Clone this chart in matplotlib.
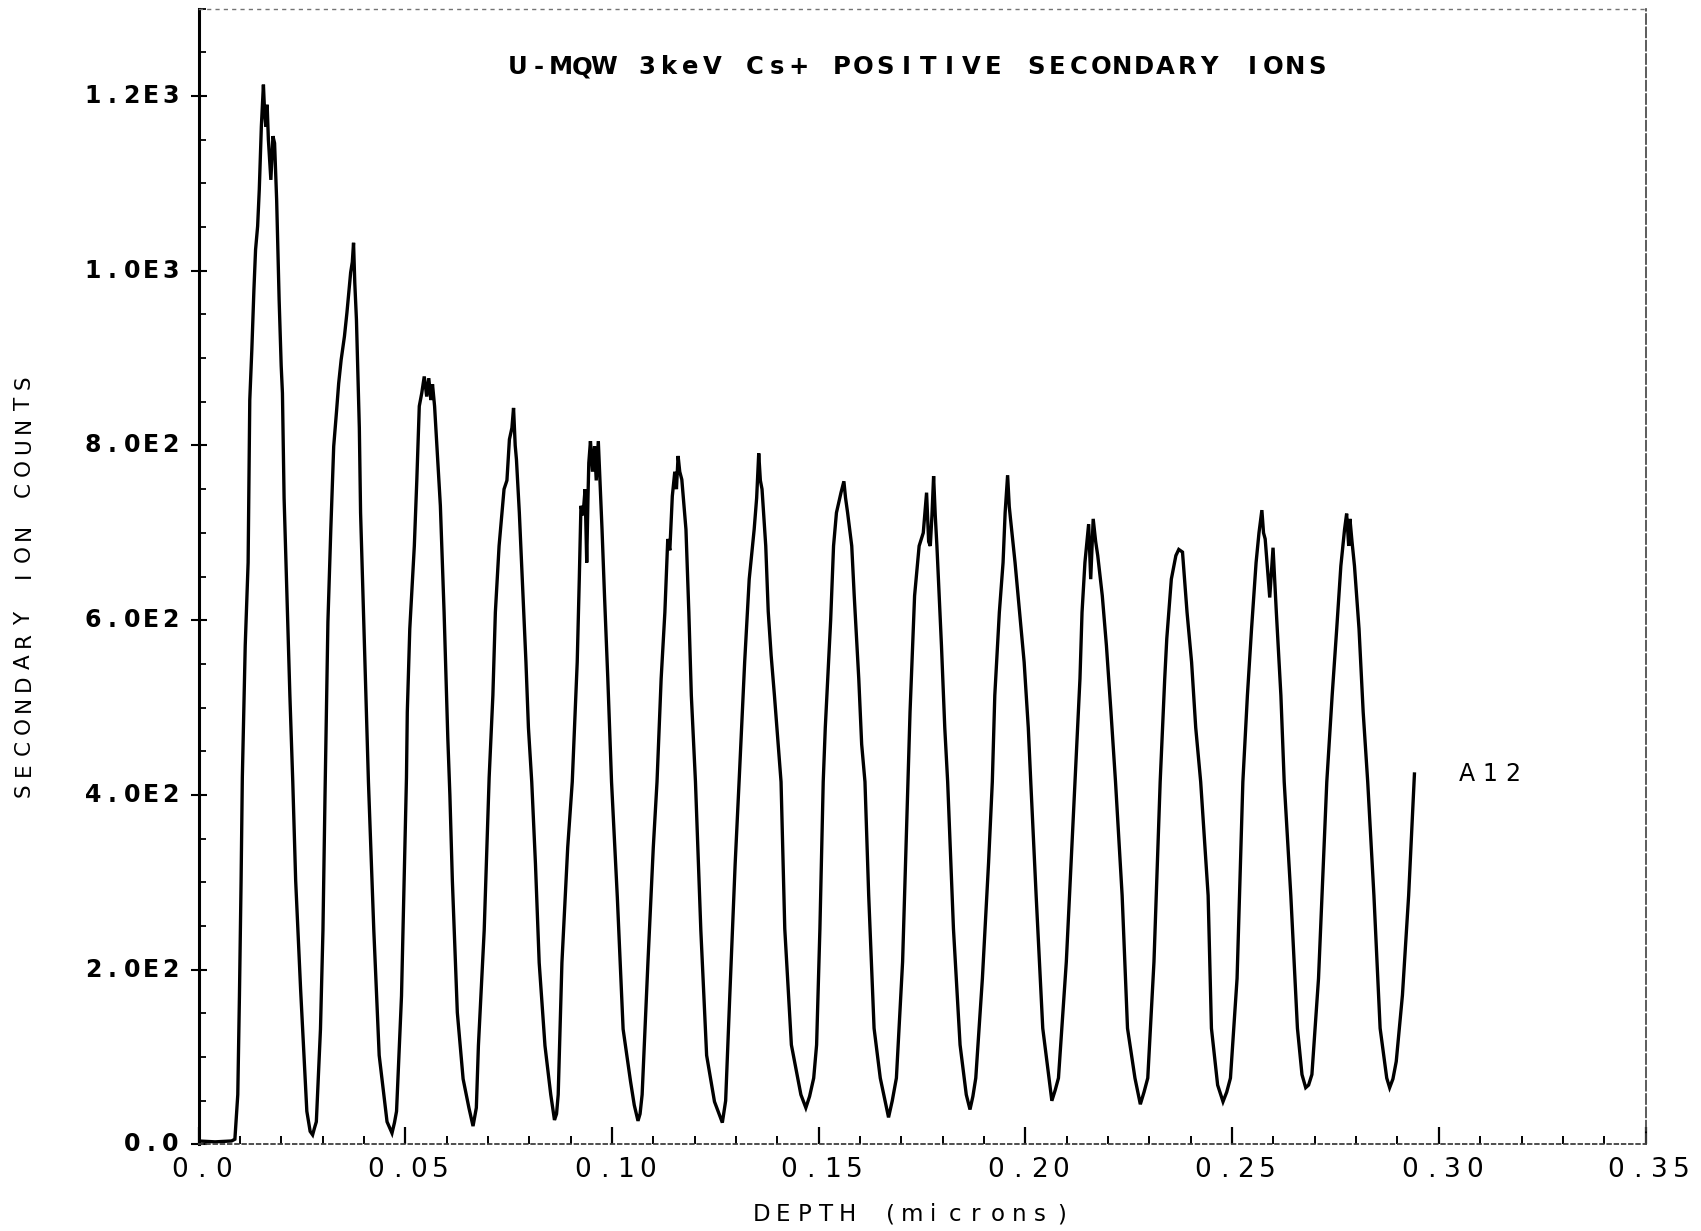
import matplotlib.pyplot as plt
from matplotlib.ticker import MultipleLocator
from matplotlib.transforms import offset_copy

# depth (microns) and secondary ion counts
depth = [
    0.0000, 0.0040, 0.0080, 0.0088, 0.0095, 0.0099, 0.0103, 0.0106, 0.0113, 0.0120, 0.0124,
    0.0129, 0.0134, 0.0138, 0.0143, 0.0147, 0.0152, 0.0157, 0.0160, 0.0163, 0.0166, 0.0169,
    0.0175, 0.0180, 0.0184, 0.0189, 0.0195, 0.0200, 0.0203, 0.0207, 0.0215, 0.0221, 0.0228,
    0.0235, 0.0247, 0.0258, 0.0262, 0.0270, 0.0276,
    0.0280, 0.0285, 0.0295, 0.0301, 0.0306, 0.0313, 0.0320, 0.0327, 0.0334, 0.0339, 0.0345,
    0.0353, 0.0359, 0.0364, 0.0368, 0.0372, 0.0375, 0.0378, 0.0382, 0.0386, 0.0389, 0.0392,
    0.0399, 0.0405, 0.0411, 0.0424, 0.0437, 0.0456, 0.0468,
    0.0474, 0.0479, 0.0491, 0.0503, 0.0505, 0.0511, 0.0522, 0.0528, 0.0534, 0.0540, 0.0546,
    0.0552, 0.0557, 0.0562, 0.0566, 0.0571, 0.0585, 0.0594, 0.0603, 0.0608, 0.0614, 0.0626,
    0.0640, 0.0654, 0.0664,
    0.0672, 0.0677, 0.0691, 0.0703, 0.0712, 0.0718, 0.0727, 0.0739, 0.0746, 0.0752, 0.0758,
    0.0762, 0.0766, 0.0769, 0.0776, 0.0785, 0.0792, 0.0798, 0.0806, 0.0815, 0.0824, 0.0838,
    0.0852, 0.0861,
    0.0866, 0.0870, 0.0879, 0.0893, 0.0904, 0.0916, 0.0921, 0.0925, 0.0930, 0.0935, 0.0939,
    0.0942, 0.0944, 0.0948, 0.0953, 0.0958, 0.0962, 0.0967, 0.0971, 0.0976, 0.0982, 0.0990,
    0.0999, 0.1013, 0.1027, 0.1045, 0.1054, 0.1063,
    0.1068, 0.1073, 0.1087, 0.1100, 0.1109, 0.1119, 0.1128, 0.1135, 0.1140, 0.1146, 0.1152,
    0.1156, 0.1160, 0.1164, 0.1169, 0.1179, 0.1186, 0.1192, 0.1202, 0.1215, 0.1229, 0.1248,
    0.1267,
    0.1275, 0.1285, 0.1298, 0.1308, 0.1321, 0.1332, 0.1344, 0.1350, 0.1355, 0.1359, 0.1363,
    0.1372, 0.1378, 0.1385, 0.1393, 0.1409, 0.1418, 0.1434, 0.1457, 0.1469,
    0.1478, 0.1488, 0.1495, 0.1503, 0.1511, 0.1516, 0.1529, 0.1536, 0.1543, 0.1554, 0.1561,
    0.1565, 0.1570, 0.1580, 0.1586, 0.1597, 0.1604, 0.1612, 0.1621, 0.1634, 0.1649, 0.1669,
    0.1678, 0.1688, 0.1703, 0.1716, 0.1721, 0.1732, 0.1743, 0.1753, 0.1761, 0.1766, 0.1770,
    0.1774, 0.1778, 0.1782, 0.1786, 0.1797, 0.1805, 0.1812, 0.1826, 0.1842, 0.1857, 0.1866,
    0.1873, 0.1880, 0.1896, 0.1911, 0.1920, 0.1926, 0.1937, 0.1946, 0.1951, 0.1957, 0.1961,
    0.1964, 0.1975, 0.1986, 0.1997, 0.2007, 0.2013, 0.2026, 0.2042, 0.2057, 0.2064,
    0.2072, 0.2080, 0.2099, 0.2120, 0.2132, 0.2137, 0.2144, 0.2153, 0.2158, 0.2164, 0.2170,
    0.2175, 0.2186, 0.2196, 0.2207, 0.2218, 0.2234, 0.2247, 0.2265, 0.2278,
    0.2287, 0.2296, 0.2311, 0.2326, 0.2337, 0.2342, 0.2353, 0.2364, 0.2371, 0.2380, 0.2391,
    0.2402, 0.2412, 0.2424, 0.2442, 0.2450, 0.2465, 0.2478,
    0.2487, 0.2496, 0.2512, 0.2526, 0.2537, 0.2547, 0.2558, 0.2565, 0.2572, 0.2576, 0.2580,
    0.2591, 0.2599, 0.2607, 0.2618, 0.2626, 0.2642, 0.2658, 0.2669, 0.2678,
    0.2685, 0.2693, 0.2709, 0.2729, 0.2742, 0.2753, 0.2763, 0.2772, 0.2777, 0.2782, 0.2785,
    0.2790, 0.2796, 0.2807, 0.2817, 0.2828, 0.2843, 0.2858, 0.2874, 0.2881,
    0.2889, 0.2897, 0.2912, 0.2927, 0.2941,
]
counts = [
    4, 3, 4, 6, 57, 170, 302, 420, 571, 666, 852,
    910, 978, 1024, 1051, 1093, 1165, 1213, 1180, 1165, 1190, 1150,
    1104, 1154, 1146, 1081, 967, 891, 860, 740, 609, 514, 415,
    302, 177, 75, 38, 15, 11,
    18, 26, 132, 245, 400, 598, 704, 799, 840, 871, 898,
    925, 952, 978, 998, 1010, 1032, 986, 944, 871, 820, 723,
    609, 514, 415, 245, 102, 26, 13,
    25, 38, 170, 420, 495, 590, 685, 760, 845, 860, 879,
    856, 877, 852, 870, 845, 731, 609, 465, 400, 302, 151,
    75, 42, 21,
    42, 113, 245, 420, 514, 609, 685, 750, 760, 807, 820,
    843, 800, 784, 723, 628, 552, 477, 415, 321, 208, 113,
    57, 28,
    35, 57, 208, 340, 415, 552, 647, 731, 720, 750, 666,
    740, 780, 805, 770, 799, 760, 805, 761, 704, 628, 533,
    415, 283, 132, 72, 45, 27,
    35, 57, 208, 340, 415, 533, 609, 693, 680, 742, 770,
    750, 788, 770, 761, 704, 609, 514, 415, 245, 102, 49,
    25,
    50, 170, 321, 420, 552, 647, 704, 740, 791, 760, 750,
    685, 610, 560, 514, 415, 247, 114, 57, 42,
    55, 76, 114, 247, 415, 477, 600, 685, 723, 746, 759,
    740, 723, 685, 628, 533, 458, 415, 285, 133, 76, 31,
    50, 76, 209, 415, 495, 628, 685, 700, 746, 690, 685,
    720, 765, 720, 685, 571, 477, 415, 247, 114, 57, 40,
    55, 76, 190, 323, 415, 514, 609, 666, 723, 766, 730,
    716, 666, 609, 552, 477, 415, 285, 133, 76, 50,
    62, 76, 209, 415, 533, 609, 666, 710, 647, 716, 690,
    674, 628, 571, 495, 415, 285, 133, 76, 46,
    60, 76, 209, 415, 533, 579, 647, 674, 681, 678, 609,
    552, 477, 415, 285, 133, 68, 49,
    60, 76, 190, 415, 514, 590, 666, 700, 726, 700, 693,
    626, 683, 609, 514, 415, 285, 133, 80, 65,
    68, 80, 190, 415, 514, 590, 662, 704, 722, 685, 716,
    690, 662, 590, 495, 415, 285, 133, 76, 65,
    75, 95, 171, 285, 424,
]

x_ticks = [0.0, 0.05, 0.10, 0.15, 0.20, 0.25, 0.30, 0.35]
x_tick_labels = ['0.0', '0.05', '0.10', '0.15', '0.20', '0.25', '0.30', '0.35']
y_ticks = [0, 200, 400, 600, 800, 1000, 1200]
y_tick_labels = ['0.0', '2.0E2', '4.0E2', '6.0E2', '8.0E2', '1.0E3', '1.2E3']

title = 'U-MQW 3keV Cs+ POSITIVE SECONDARY IONS'
sample = 'A12'


def spaced_text(ax, x, y, s, pitch, transform, align='center', dx=0, dy=0,
                vertical=False, **kw):
    # plotter style lettering: one glyph per fixed pitch (pixels)
    n = len(s)
    if align == 'center':
        start = -(n - 1) / 2 * pitch
    else:  # right: last glyph centre sits at the anchor
        start = -(n - 1) * pitch
    for i, ch in enumerate(s):
        if ch == ' ':
            continue
        off = start + i * pitch
        if vertical:
            tr = offset_copy(transform, fig=ax.figure, x=dx, y=dy + off, units='dots')
        else:
            tr = offset_copy(transform, fig=ax.figure, x=dx + off, y=dy, units='dots')
        ax.text(x, y, ch, transform=tr, ha='center', va='center',
                rotation=90 if vertical else 0, clip_on=False, **kw)


fig = plt.figure(figsize=(17.01, 12.31), dpi=100)
ax = fig.add_axes([0.1167, 0.0703, 0.8507, 0.9227])

ax.plot(depth, counts, color='black', lw=2.4, solid_joinstyle='miter')

ax.set_xlim(0, 0.35)
ax.set_ylim(0, 1300)

# frame: solid left axis, dotted bottom/top, dashed right
ax.spines['left'].set_linewidth(2.2)
ax.spines['bottom'].set_linestyle((0, (2, 2)))
ax.spines['bottom'].set_linewidth(1.3)
ax.spines['bottom'].set_color('0.25')
ax.spines['top'].set_linestyle((0, (2, 4)))
ax.spines['top'].set_linewidth(1.0)
ax.spines['top'].set_color('0.45')
ax.spines['right'].set_linestyle((0, (6, 2)))
ax.spines['right'].set_linewidth(1.2)
ax.spines['right'].set_color('0.25')

ax.set_xticks(x_ticks)
ax.set_yticks(y_ticks)
ax.xaxis.set_minor_locator(MultipleLocator(0.01))
ax.yaxis.set_minor_locator(MultipleLocator(50))
ax.tick_params(axis='x', which='major', direction='in', length=12, width=1.6,
               labelbottom=False)
ax.tick_params(axis='x', which='minor', direction='in', length=6, width=1.4)
ax.tick_params(axis='y', which='major', direction='inout', length=12, width=1.5,
               labelleft=False)
ax.tick_params(axis='y', which='minor', direction='in', length=5, width=1.3)

for v, lab in zip(y_ticks, y_tick_labels):
    spaced_text(ax, 0, v, lab, 19.4, ax.get_yaxis_transform(), align='right', dx=-28,
                fontsize=17, fontweight='bold')

for v, lab in zip(x_ticks, x_tick_labels):
    spaced_text(ax, v, 0, lab, 21.7, ax.get_xaxis_transform(), dx=3, dy=-26,
                fontsize=19)

spaced_text(ax, 0.1738, 1233, title, 21.6, ax.transData, fontsize=17.5, fontweight='bold')
spaced_text(ax, 0.3123, 424, sample, 23, ax.transData, fontsize=17)

spaced_text(ax, 0.0141, 0.524, 'SECONDARY ION COUNTS', 21.5, fig.transFigure,
            vertical=True, fontsize=15.5)
spaced_text(ax, 0.536, 0.013, 'DEPTH (microns)', 21.4, fig.transFigure, fontsize=16.5)

fig.savefig('out.png', dpi=100)
